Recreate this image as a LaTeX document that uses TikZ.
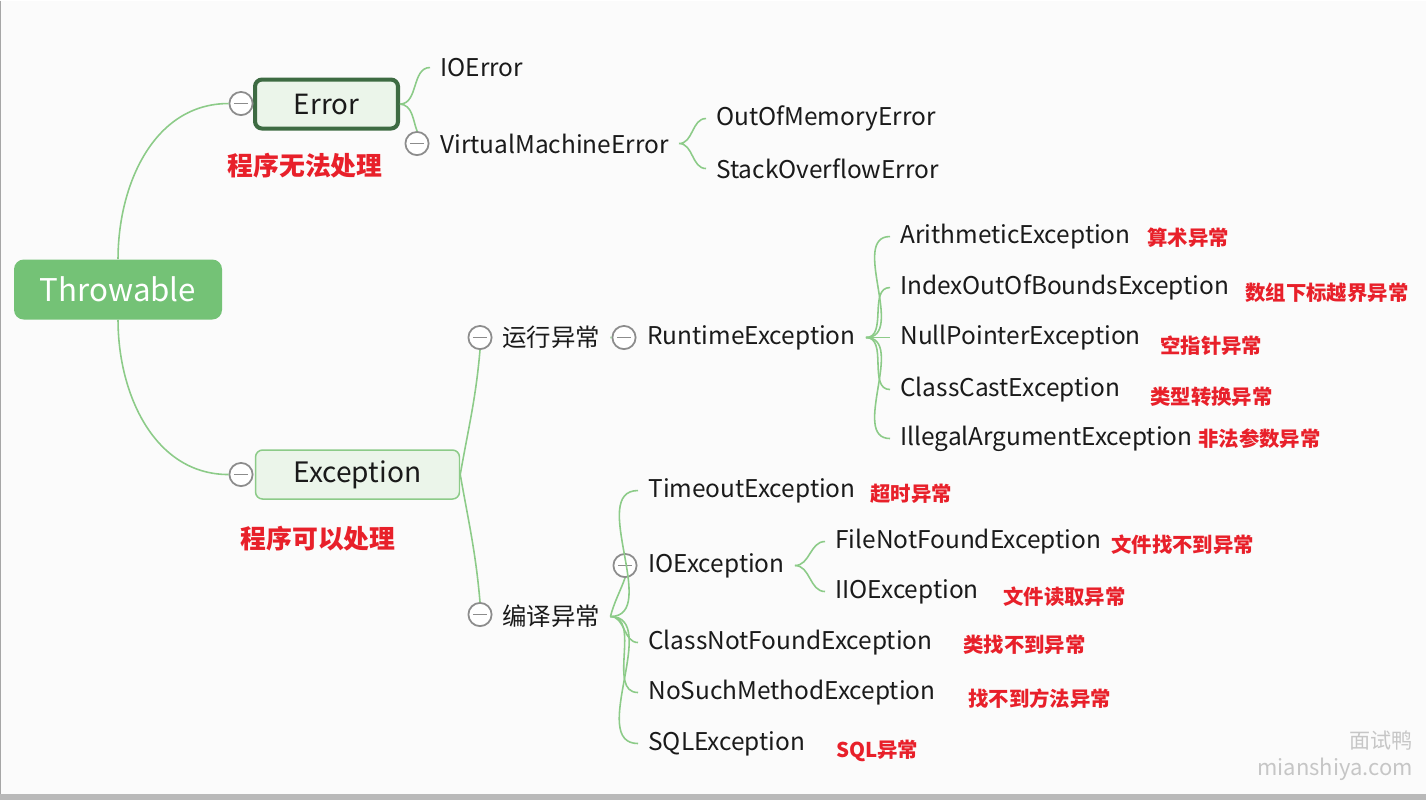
\documentclass[tikz,border=0pt]{standalone}
\usepackage{fontspec}
\setmainfont{Noto Sans CJK SC}
\usepackage{tikz}
\definecolor{linegreen}{HTML}{8CCB88}
\definecolor{rootgreen}{HTML}{74C276}
\definecolor{boxfill}{HTML}{EBF5EA}
\definecolor{errborder}{HTML}{3D6B42}
\definecolor{notered}{HTML}{E8202A}
\definecolor{foldgray}{HTML}{8C8C8C}
\definecolor{paper}{HTML}{FBFBFB}
\definecolor{inktext}{HTML}{1A1A1A}

\begin{document}
\begin{tikzpicture}[x=0.02cm,y=-0.02cm,
  leaf/.style={anchor=west,inner xsep=5.7pt,inner ysep=0pt,text=inktext,
    font=\fontsize{13.9}{16}\selectfont},
  note/.style={anchor=west,inner sep=0pt,text=notered,
    font=\bfseries\fontsize{11.6}{14}\selectfont},
  bignote/.style={inner sep=0pt,text=notered,
    font=\bfseries\fontsize{14.7}{17}\selectfont},
  fold/.style={circle,draw=foldgray,line width=1pt,fill=white,
    minimum size=13.2pt,inner sep=0pt,
    path picture={\draw[foldgray,line width=1pt]
      ([xshift=-4pt]path picture bounding box.center) --
      ([xshift=4pt]path picture bounding box.center);}},
  branch/.style={draw=linegreen,line width=0.9pt}]

  % page
  \fill[paper] (0,0) rectangle (1426,799);
  \draw[gray!70,line width=0.6pt] (0.5,0) -- (0.5,793);
  \fill[gray!55] (0,793) rectangle (1426,799);

  % main boxes
  \node[fill=rootgreen,rounded corners=5.5pt,minimum width=4.16cm,
    minimum height=1.2cm,text=white,font=\fontsize{17.8}{20}\selectfont]
    (throwable) at (118,289) {Throwable};
  \node[draw=errborder,line width=2.3pt,fill=boxfill,rounded corners=4pt,
    minimum width=2.86cm,minimum height=0.98cm,text=inktext,
    font=\fontsize{15.8}{18}\selectfont] (error) at (326.5,103.5) {Error};
  \node[draw=linegreen,line width=0.85pt,fill=boxfill,rounded corners=4pt,
    minimum width=4.08cm,minimum height=0.98cm,text=inktext,
    font=\fontsize{16}{18}\selectfont] (exception) at (357.5,474) {Exception};

  \node[fold] (errfold) at (241,103) {};
  \node[fold] (excfold) at (241,474) {};
  \node[bignote] (nerr) at (305,165) {程序无法处理};
  \node[bignote] (nexc) at (318,538) {程序可以处理};

  % Error side
  \node[leaf] (ioerror) at (430,67) {IOError};
  \node[fold] (vmefold) at (417,143) {};
  \node[leaf] (vme) at (430,143) {VirtualMachineError};
  \node[leaf] (oom) at (706,118) {OutOfMemoryError};
  \node[leaf] (soe) at (706,168) {StackOverflowError};

  % Exception side
  \node[fold] (rtfold) at (480,337) {};
  \node[leaf] (runtime) at (492,337) {运行异常};
  \node[fold] (rtefold) at (624,337) {};
  \node[leaf] (rte) at (637,337) {RuntimeException};
  \node[leaf] (arith) at (890,236) {ArithmeticException};
  \node[leaf] (index) at (890,287) {IndexOutOfBoundsException};
  \node[leaf] (npe) at (890,337) {NullPointerException};
  \node[leaf] (cce) at (890,389) {ClassCastException};
  \node[leaf] (iae) at (890,438) {IllegalArgumentException};

  \node[fold] (cpfold) at (480,614) {};
  \node[leaf] (compile) at (492,616) {编译异常};
  \node[leaf] (timeout) at (638,490) {TimeoutException};
  \node[fold] (ioefold) at (625,565) {};
  \node[leaf] (ioe) at (638,565) {IOException};
  \node[leaf] (fnf) at (825,541) {FileNotFoundException};
  \node[leaf] (iio) at (825,591) {IIOException};
  \node[leaf] (cnf) at (638,642) {ClassNotFoundException};
  \node[leaf] (nsm) at (638,692) {NoSuchMethodException};
  \node[leaf] (sql) at (638,743) {SQLException};

  % red notes
  \node[note] at (1147,237) {算术异常};
  \node[note] at (1245,292) {数组下标越界异常};
  \node[note] at (1160,345) {空指针异常};
  \node[note] at (1150,396) {类型转换异常};
  \node[note] at (1198,438) {非法参数异常};
  \node[note] at (870,493) {超时异常};
  \node[note] at (1111,544) {文件找不到异常};
  \node[note] at (1003,596) {文件读取异常};
  \node[note] at (963,644) {类找不到异常};
  \node[note] at (968,698) {找不到方法异常};
  \node[note] at (836,750) {SQL异常};

  % connectors
  \path[branch] (throwable.north) to[out=90,in=180] (errfold.west)
    (throwable.south) to[out=-90,in=180] (excfold.west)
    (error.east) to[out=0,in=180] (ioerror.west)
    (error.east) to[out=-5,in=110] (vmefold.north)
    (vme.east) to[out=0,in=180] (oom.west)
    (vme.east) to[out=0,in=180] (soe.west)
    (exception.east) to[out=80,in=-95] (rtfold.south)
    (exception.east) to[out=-80,in=95] (cpfold.north)
    (runtime.east) -- (rtefold.west)
    (compile.east) to[out=75,in=-110] (ioefold.south);
  \foreach \kid in {arith,index,npe,cce,iae}
    \path[branch] (rte.east) to[out=0,in=180] (\kid.west);
  \foreach \kid in {timeout,cnf,nsm,sql}
    \path[branch] (compile.east) to[out=0,in=180] (\kid.west);
  \foreach \kid in {fnf,iio}
    \path[branch] (ioe.east) to[out=0,in=180] (\kid.west);

  % watermark
  \node[anchor=east,inner sep=0pt,text=gray!45,font=\fontsize{12}{14}\selectfont]
    (wmcn) at (1413,740) {面试鸭};
  \node[anchor=east,inner sep=0pt,text=gray!45,font=\fontsize{12.5}{14}\selectfont]
    (wmurl) at (1413,769) {mianshiya.com};
\end{tikzpicture}
\end{document}
